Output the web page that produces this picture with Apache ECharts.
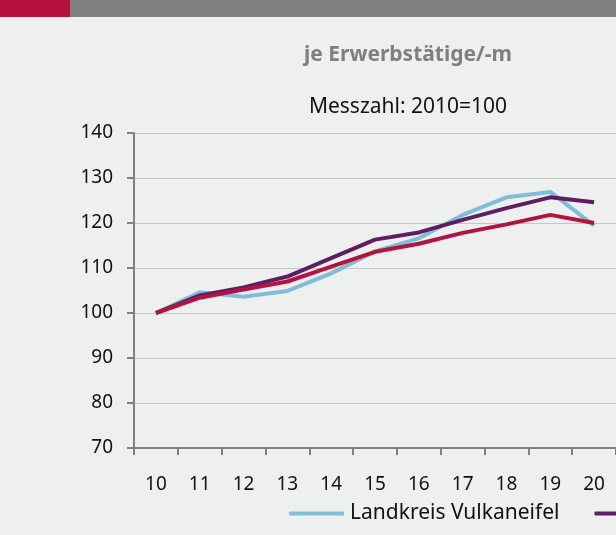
<!DOCTYPE html>
<html>
<head>
<meta charset="utf-8">
<script src="https://cdn.jsdelivr.net/npm/echarts@6/dist/echarts.min.js"></script>
<style>
  html, body { margin: 0; padding: 0; background: #eef0ef; }
  #chart { width: 616px; height: 535px; }
</style>
</head>
<body>
<div id="chart"></div>
<script>
// Jahre (Kurzform)
const years = ['10', '11', '12', '13', '14', '15', '16', '17', '18', '19', '20']
const yTicks = [70, 80, 90, 100, 110, 120, 130, 140]

// Messzahl 2010=100
const vulkaneifel = [100, 104.6, 103.6, 104.9, 108.8, 113.7, 116.6, 121.8, 125.7, 126.9, 119.4]
const rlp = [100, 103.9, 105.7, 108.1, 112.2, 116.3, 117.9, 120.7, 123.3, 125.7, 124.6]
const deutschland = [100, 103.4, 105.2, 107.0, 110.3, 113.6, 115.4, 117.8, 119.7, 121.8, 120.0]

const font = '"Noto Sans", sans-serif'

let chart = echarts.init(document.getElementById('chart'), null, { renderer: 'canvas' })

function line(name, data, color) {
    return {
        name: name,
        type: 'line',
        data: data,
        symbol: 'none',
        smooth: false,
        lineStyle: { color: color, width: 4 },
        itemStyle: { color: color }
    }
}

let option = {
    backgroundColor: '#eef0ef',
    animation: false,
    graphic: [
        { type: 'rect', shape: { x: 0, y: 0, width: 70, height: 17 }, style: { fill: '#b5123e' } },
        { type: 'rect', shape: { x: 70, y: 0, width: 546, height: 17 }, style: { fill: '#808080' } }
    ],
    title: [
        {
            text: 'je Erwerbstätige/-m',
            left: 403, top: 40, textAlign: 'center',
            textStyle: { color: '#7f7f7f', fontSize: 21, fontWeight: 'bold', fontFamily: font }
        },
        {
            text: 'Messzahl: 2010=100',
            left: 403, top: 92, textAlign: 'center',
            textStyle: { color: '#111', fontSize: 21, fontWeight: 'normal', fontFamily: font }
        }
    ],
    legend: {
        left: 284, top: 498, width: 900,
        itemWidth: 55, itemHeight: 4, itemGap: 35,
        icon: 'roundRect',
        textStyle: { color: '#111', fontSize: 21, fontFamily: font, padding: [0, 0, 0, 1] },
        data: ['Landkreis Vulkaneifel', 'Rheinland-Pfalz', 'Deutschland']
    },
    grid: { left: 134, right: -7, top: 133, bottom: 87, containLabel: false },
    xAxis: {
        type: 'category',
        data: years,
        boundaryGap: true,
        axisLine: { lineStyle: { color: '#808080', width: 2 } },
        axisTick: { show: true, length: 7, lineStyle: { color: '#808080', width: 2 } },
        axisLabel: { color: '#111', fontSize: 19, fontFamily: font, margin: 27 }
    },
    yAxis: {
        type: 'value',
        min: yTicks[0], max: yTicks[yTicks.length - 1], interval: 10,
        axisLine: { show: true, lineStyle: { color: '#808080', width: 2 } },
        axisTick: { show: true, length: 7, lineStyle: { color: '#808080', width: 2 } },
        axisLabel: { color: '#111', fontSize: 19, fontFamily: font, margin: 21 },
        splitLine: { lineStyle: { color: '#c4c6c5', width: 1 } }
    },
    series: [
        line('Landkreis Vulkaneifel', vulkaneifel, '#82bdd7'),
        line('Rheinland-Pfalz', rlp, '#5e1f62'),
        line('Deutschland', deutschland, '#b5133f')
    ]
}
chart.setOption(option)
</script>
</body>
</html>
